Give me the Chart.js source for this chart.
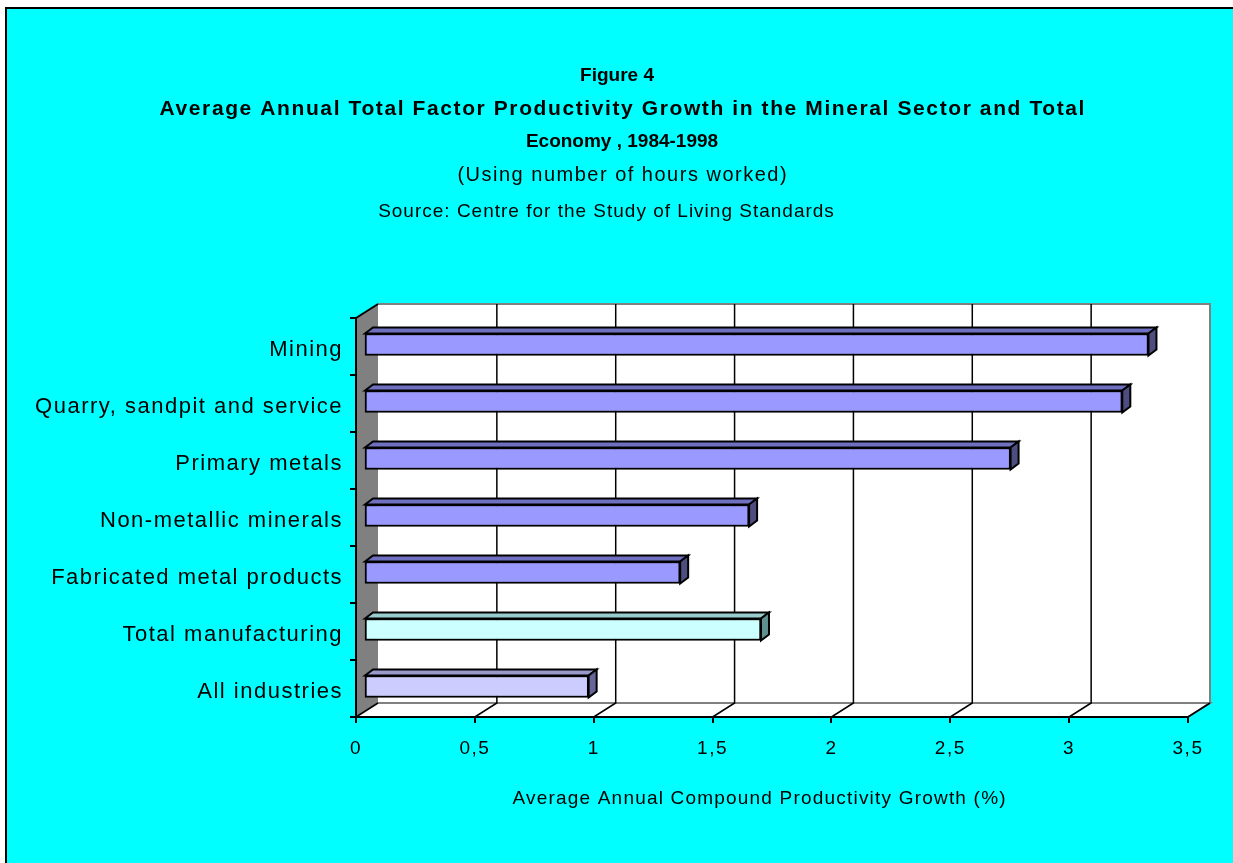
<!DOCTYPE html>
<html>
<head>
<meta charset="utf-8">
<script src="https://cdn.jsdelivr.net/npm/chart.js@4.4.1/dist/chart.umd.min.js"></script>
<style>
  html, body { margin: 0; padding: 0; background: #fff; }
  #wrap { width: 1233px; height: 863px; position: relative; }
</style>
</head>
<body>
<div id="wrap"><canvas id="tfpChart"></canvas></div>
<script>
const categories = [
    'Mining',
    'Quarry, sandpit and service',
    'Primary metals',
    'Non-metallic minerals',
    'Fabricated metal products',
    'Total manufacturing',
    'All industries'
];
const growthValues = [3.30, 3.19, 2.72, 1.62, 1.33, 1.67, 0.945];
const xTicks = [0, 0.5, 1, 1.5, 2, 2.5, 3, 3.5];

const titleLines = [
    'Figure 4',
    'Average Annual Total Factor Productivity Growth in the Mineral Sector and Total',
    'Economy , 1984-1998'
];
const subtitleText = '(Using number of hours worked)';
const sourceText = 'Source: Centre for the Study of Living Standards';
const xAxisTitle = 'Average Annual Compound Productivity Growth (%)';

// front / top / side colours for each bar
const frontColors = ['#9999FF', '#9999FF', '#9999FF', '#9999FF', '#9999FF', '#CCFFFF', '#CCCCFF'];
const topColors = ['#7070C0', '#7070C0', '#7070C0', '#7070C0', '#7070C0', '#99CCCC', '#9999CC'];
const sideColors = ['#4D4D80', '#4D4D80', '#4D4D80', '#4D4D80', '#4D4D80', '#608F8F', '#666699'];

const FONT = 'Arial, "Liberation Sans", sans-serif';
const WALL_DX = 22, WALL_DY = -14;   // depth of the 3D box
const BAR_DX = 8, BAR_DY = -6;       // depth of each bar
const BAR_SHIFT_X = 8, BAR_SHIFT_Y = -2;

function textLine(ctx, text, font, spacing, x, y) {
    ctx.font = font;
    ctx.letterSpacing = spacing + 'px';
    // letter spacing adds a trailing gap, compensate to stay centred
    ctx.fillText(text, x + spacing / 2, y);
}

const chartFrame = {
    id: 'chartFrame',
    beforeLayout(chart) {
        chart.ctx.letterSpacing = '1.5px';
    },
    beforeDraw(chart) {
        const { ctx, chartArea: a } = chart;
        const xs = chart.scales.x;
        ctx.letterSpacing = '1.5px';
        ctx.save();
        // page background and frame
        ctx.fillStyle = '#00FFFF';
        ctx.fillRect(6, 8, chart.width - 6, chart.height - 8);
        ctx.strokeStyle = '#000';
        ctx.lineWidth = 2;
        ctx.beginPath();
        ctx.moveTo(6, chart.height);
        ctx.lineTo(6, 8);
        ctx.lineTo(chart.width, 8);
        ctx.stroke();

        // back wall
        const bl = a.left + WALL_DX, bt = a.top + WALL_DY;
        const br = a.right + WALL_DX, bb = a.bottom + WALL_DY;
        ctx.fillStyle = '#fff';
        ctx.fillRect(bl, bt, br - bl, bb - bt);
        // floor
        ctx.beginPath();
        ctx.moveTo(a.left, a.bottom);
        ctx.lineTo(bl, bb);
        ctx.lineTo(br, bb);
        ctx.lineTo(a.right, a.bottom);
        ctx.closePath();
        ctx.fill();
        ctx.strokeStyle = '#808080';
        ctx.lineWidth = 2;
        ctx.beginPath();
        ctx.moveTo(bl, bb);
        ctx.lineTo(br, bb);
        ctx.lineTo(a.right, a.bottom);
        ctx.moveTo(bl, bt);
        ctx.lineTo(br, bt);
        ctx.lineTo(br, bb);
        ctx.stroke();
        // side wall
        ctx.fillStyle = '#808080';
        ctx.beginPath();
        ctx.moveTo(a.left, a.top);
        ctx.lineTo(bl, bt);
        ctx.lineTo(bl, bb);
        ctx.lineTo(a.left, a.bottom);
        ctx.closePath();
        ctx.fill();
        ctx.strokeStyle = '#000';
        ctx.lineWidth = 2;
        ctx.beginPath();
        ctx.moveTo(a.left, a.top);
        ctx.lineTo(bl, bt);
        ctx.stroke();

        // grid lines on back wall and floor
        ctx.lineWidth = 1.5;
        ctx.strokeStyle = '#000';
        xTicks.forEach(v => {
            const px = xs.getPixelForValue(v);
            ctx.beginPath();
            ctx.moveTo(px, a.bottom);
            ctx.lineTo(px + WALL_DX, bb);
            if (v > 0 && v < 3.5) {
                ctx.lineTo(px + WALL_DX, bt);
            }
            ctx.stroke();
        });
        ctx.restore();
    },
    beforeDatasetsDraw(chart) {
        const { ctx } = chart;
        ctx.save();
        ctx.translate(BAR_SHIFT_X, BAR_SHIFT_Y);
        const meta = chart.getDatasetMeta(0);
        meta.data.forEach((bar, i) => {
            const { x, y, base, height } = bar.getProps(['x', 'y', 'base', 'height'], true);
            const top = y - height / 2, bottom = y + height / 2;
            ctx.lineWidth = 2;
            ctx.strokeStyle = '#000';
            ctx.lineJoin = 'miter';
            // top face
            ctx.fillStyle = topColors[i];
            ctx.beginPath();
            ctx.moveTo(base, top);
            ctx.lineTo(base + BAR_DX, top + BAR_DY);
            ctx.lineTo(x + BAR_DX, top + BAR_DY);
            ctx.lineTo(x, top);
            ctx.closePath();
            ctx.fill();
            ctx.stroke();
            // side face
            ctx.fillStyle = sideColors[i];
            ctx.beginPath();
            ctx.moveTo(x, top);
            ctx.lineTo(x + BAR_DX, top + BAR_DY);
            ctx.lineTo(x + BAR_DX, bottom + BAR_DY);
            ctx.lineTo(x, bottom);
            ctx.closePath();
            ctx.fill();
            ctx.stroke();
        });
    },
    afterDatasetsDraw(chart) {
        chart.ctx.restore();
    },
    afterDraw(chart) {
        const { ctx } = chart;
        ctx.save();
        ctx.fillStyle = '#000';
        ctx.textAlign = 'center';
        ctx.textBaseline = 'middle';
        textLine(ctx, titleLines[0], 'bold 19px ' + FONT, 0, 617, 76);
        textLine(ctx, titleLines[1], 'bold 21px ' + FONT, 1.6, 622, 109);
        textLine(ctx, titleLines[2], 'bold 19px ' + FONT, 0, 622, 142);
        textLine(ctx, subtitleText, '20px ' + FONT, 1.5, 622, 175);
        textLine(ctx, sourceText, '19px ' + FONT, 1, 606, 212);
        textLine(ctx, xAxisTitle, '19px ' + FONT, 1.2, 759, 799);
        ctx.restore();
    }
};

new Chart(document.getElementById('tfpChart'), {
    type: 'bar',
    data: {
        labels: categories,
        datasets: [{
            data: growthValues,
            backgroundColor: frontColors,
            borderColor: '#000',
            borderWidth: 2,
            borderSkipped: false,
            barThickness: 22
        }]
    },
    options: {
        indexAxis: 'y',
        responsive: true,
        maintainAspectRatio: false,
        animation: false,
        layout: { padding: { top: 318, right: 45, bottom: 0, left: 0 } },
        plugins: {
            legend: { display: false },
            tooltip: { enabled: false }
        },
        scales: {
            x: {
                min: 0,
                max: 3.5,
                afterFit: s => { s.height = 146; },
                afterBuildTicks: s => { s.ticks = xTicks.map(v => ({ value: v })); },
                border: { display: true, color: '#000', width: 2 },
                grid: { drawOnChartArea: false, color: '#000', lineWidth: 2, tickLength: 6 },
                ticks: {
                    color: '#000',
                    padding: 14,
                    maxRotation: 0,
                    font: { family: FONT, size: 19 },
                    callback: v => String(v).replace('.', ',')
                }
            },
            y: {
                afterFit: s => { s.width = 356; },
                border: { display: true, color: '#000', width: 2 },
                grid: { drawOnChartArea: false, color: '#000', lineWidth: 2, tickLength: 6 },
                ticks: {
                    color: '#000',
                    padding: 7,
                    labelOffset: 3,
                    font: { family: FONT, size: 22 }
                }
            }
        }
    },
    plugins: [chartFrame]
});
</script>
</body>
</html>
